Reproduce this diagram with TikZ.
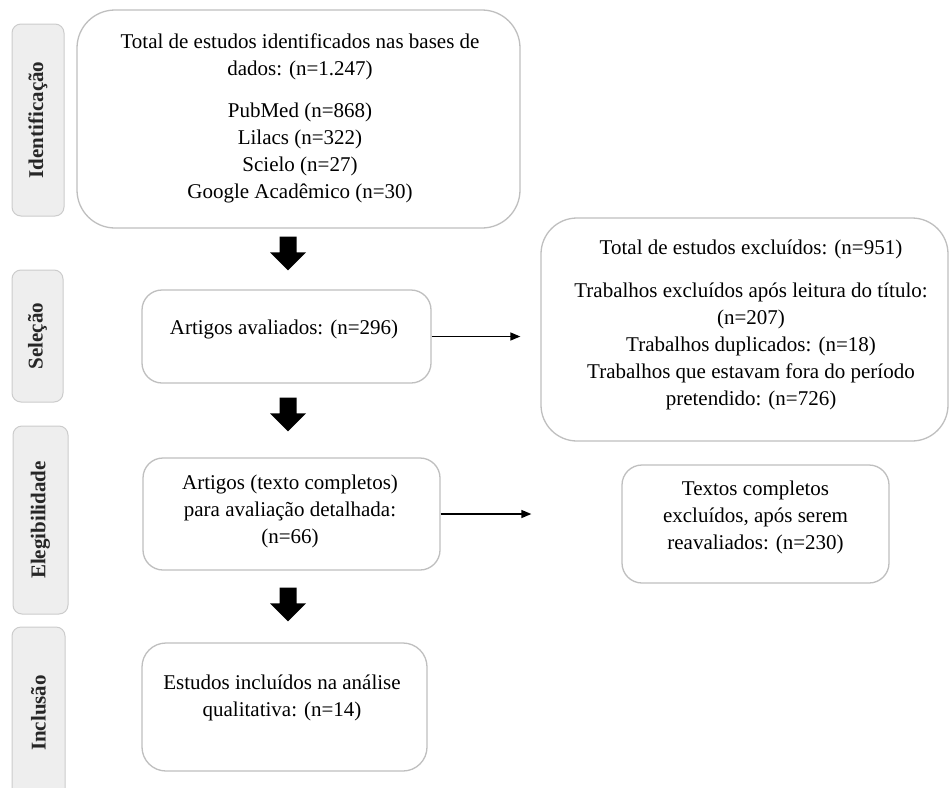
\documentclass[tikz,border=0pt]{standalone}
\usepackage{fontspec}
\setmainfont{Liberation Serif}
\usetikzlibrary{arrows.meta,calc}
\definecolor{boxline}{HTML}{BFBFBF}
\definecolor{tabfill}{HTML}{EEEEEE}
\definecolor{tabline}{HTML}{CCCCCC}
\definecolor{tabtext}{HTML}{262626}
\newcommand{\blkarrow}[4]{%
  \fill[black] let \p1=(#1), \p2=(#2) in
    (\x1-8.5pt,\y1-#3) -- (\x1+8.5pt,\y1-#3) -- (\x1+8.5pt,\y2+#4+18pt)
    -- (\x1+18pt,\y2+#4+18pt) -- (\x1,\y2+#4) -- (\x1-18pt,\y2+#4+18pt)
    -- (\x1-8.5pt,\y2+#4+18pt) -- cycle;}
\begin{document}
\begin{tikzpicture}[x=1pt,y=-1pt,
  tabbox/.style={draw=tabline, fill=tabfill, line width=1pt, rounded corners=9pt,
    rotate=90, font=\bfseries\fontsize{21}{25}\selectfont, text=tabtext, inner sep=0pt},
  mainbox/.style={draw=boxline, line width=1.3pt, fill=white, inner sep=0pt},
  txt/.style={align=center, font=\fontsize{21}{27}\selectfont, inner sep=0pt},
  thinarrow/.style={line width=1.4pt, -{Triangle[width=8pt,length=10pt]}}]
\useasboundingbox (0,0) rectangle (950,787);
\clip (0,0) rectangle (950,787);
\fill[white] (0,0) rectangle (950,787);

% stage tabs
\node[tabbox, minimum width=192pt, minimum height=52pt] (t1) at (38,120) {Identificação};
\node[tabbox, minimum width=132pt, minimum height=51pt] (t2) at (37.5,336) {Seleção};
\node[tabbox, minimum width=188pt, minimum height=55pt] (t3) at (40.5,520) {Elegibilidade};
\node[tabbox, minimum width=172pt, minimum height=53pt] (t4) at (38.5,713) {Inclusão};

% boxes
\node[mainbox, rounded corners=38pt, minimum width=443pt, minimum height=218pt] (top) at (298.5,119) {};
\node[mainbox, rounded corners=20pt, minimum width=289pt, minimum height=93pt] (sel) at (286.5,336.5) {};
\node[mainbox, rounded corners=36pt, minimum width=407pt, minimum height=223pt] (exc) at (744.5,329.5) {};
\node[mainbox, rounded corners=20pt, minimum width=297pt, minimum height=112pt] (eleg) at (291.5,514) {};
\node[mainbox, rounded corners=20pt, minimum width=267pt, minimum height=118pt] (txt) at (755.5,524) {};
\node[mainbox, rounded corners=24pt, minimum width=285pt, minimum height=128pt] (inc) at (284.5,707) {};

% texts
\node[txt] (topt) at (300,118.5) {Total de estudos identificados nas bases de\\ dados: (n=1.247)\\[15pt] PubMed (n=868)\\ Lilacs (n=322)\\ Scielo (n=27)\\ Google Acadêmico (n=30)};
\node[txt] (selt) at (284,329) {Artigos avaliados: (n=296)};
\node[txt] (exct) at (751,325) {Total de estudos excluídos: (n=951)\\[16pt] Trabalhos excluídos após leitura do título:\\ (n=207)\\ Trabalhos duplicados: (n=18)\\ Trabalhos que estavam fora do período\\ pretendido: (n=726)};
\node[txt] (elegt) at (290,511) {Artigos (texto completos)\\ para avaliação detalhada:\\ (n=66)};
\node[txt] (txtt) at (755.5,517) {Textos completos\\ excluídos, após serem\\ reavaliados: (n=230)};
\node[txt] (inct) at (282,698) {Estudos incluídos na análise\\ qualitativa: (n=14)};

% block arrows
\coordinate (col) at (288,0);
\blkarrow{top.south -| col}{sel.north -| col}{8pt}{19pt}
\blkarrow{sel.south -| col}{eleg.north -| col}{14pt}{26pt}
\blkarrow{eleg.south -| col}{inc.north -| col}{17pt}{21pt}

% thin arrows
\draw[thinarrow, shorten >=20pt] (sel.east) -- (sel.east -| exc.west);
\draw[thinarrow, shorten >=90pt] (eleg.east) -- (eleg.east -| txt.west);
\end{tikzpicture}
\end{document}
